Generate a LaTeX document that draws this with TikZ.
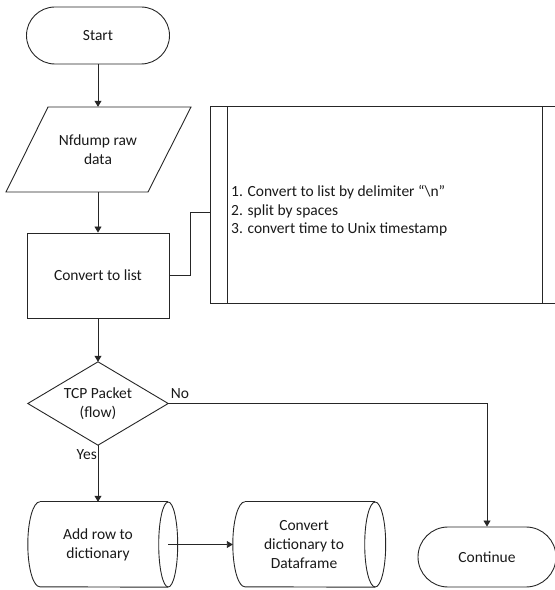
\documentclass[tikz,border=0pt]{standalone}
\usepackage{fontspec}
\setmainfont{Carlito}
\usetikzlibrary{arrows.meta}
\begin{document}
\begin{tikzpicture}[x=1pt,y=1pt,
  line/.style={draw=black!85,line width=0.9pt},
  arr/.style={line,-{Triangle[width=7pt,length=6pt]}},
  txt/.style={font=\fontsize{15.5}{19}\selectfont,align=center,inner sep=0pt,text=black!90},
  box/.style={txt,draw=none,minimum width=#1},
  lbl/.style={font=\fontsize{15.5}{19}\selectfont,inner sep=1pt,text=black!90}
]
\useasboundingbox (0,0) rectangle (555,590);
% Start
\node[txt,line,draw,rounded corners=28.5pt,minimum width=143,minimum height=57] (start) at (98,554.5) {Start};
% Nfdump
\node[box=142,minimum height=85] (nf) at (98,440.5) {Nfdump raw\\data};
\draw[line] (48,483) -- (191,483) -- (148,398) -- (6,398) -- cycle;
% Convert to list
\node[txt,line,draw,minimum width=142,minimum height=85] (conv) at (98,314.5) {Convert to list};
% predefined process
\node[box=348,minimum height=196] (proc) at (385,385) {};
\draw[line] (proc.north west) rectangle (proc.south east);
\draw[line] ([xshift=17]proc.north west) -- ([xshift=17]proc.south west);
\draw[line] ([xshift=-17]proc.north east) -- ([xshift=-17]proc.south east);
\node[lbl,anchor=west,align=left,inner sep=0pt,font=\fontsize{15.5}{18.5}\selectfont] (notes) at (231,379) {1. Convert to list by delimiter “\textbackslash{}n”\\2. split by spaces\\3. convert time to Unix timestamp};
\draw[line] (conv.east) -- ++(21,0) |- ([yshift=-7]proc.west);
% decision
\node[box=140,minimum height=83] (tcp) at (98,186.5) {TCP Packet\\(flow)};
\draw[line] (tcp.north) -- (tcp.east) -- (tcp.south) -- (tcp.west) -- cycle;
\node[lbl] (no) at (180,196) {No};
\node[lbl,anchor=east] (yes) at (98,135) {Yes};
% cylinder 1
\node[box=140,minimum height=85] (add) at (98,45.5) {Add row to\\dictionary};
\draw[line] ([xshift=12]add.north west) coordinate (a1) arc[start angle=90,end angle=270,x radius=12,y radius=42.5] -- (add.south east);
\draw[line] (a1) -- (add.north east);
\draw[line] (add.east) ellipse [x radius=9.5,y radius=42.5];
% cylinder 2
\node[box=142,minimum height=85] (dict) at (304,45.5) {Convert\\dictionary to\\Dataframe};
\draw[line] ([xshift=12]dict.north west) coordinate (a2) arc[start angle=90,end angle=270,x radius=12,y radius=42.5] -- (dict.south east);
\draw[line] (a2) -- (dict.north east);
\draw[line] (dict.east) ellipse [x radius=10.5,y radius=42.5];
% Continue
\node[txt,line,draw,rounded corners=30pt,minimum width=138,minimum height=60] (cont) at (487,33) {Continue};
% connectors
\draw[arr] (start) -- (nf);
\draw[arr] (nf) -- (conv);
\draw[arr] (conv) -- (tcp);
\draw[arr] (tcp.south) -- (add.north);
\draw[arr] (tcp.east) -| (cont.north);
\draw[arr] (add.east) -- (dict.west);
\end{tikzpicture}
\end{document}
